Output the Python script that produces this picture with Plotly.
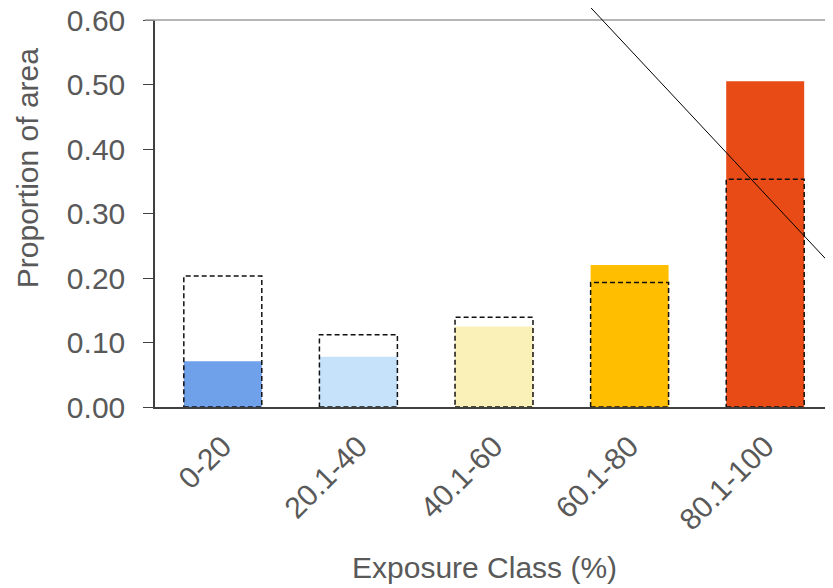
import plotly.graph_objects as go

# ---- data ----
categories = ["0-20", "20.1-40", "40.1-60", "60.1-80", "80.1-100"]
proportion_filled = [0.071, 0.078, 0.125, 0.220, 0.505]
proportion_dashed = [0.203, 0.112, 0.139, 0.193, 0.353]
bar_colors = ["#6fa0ea", "#c6e1fa", "#faf1b9", "#ffbf00", "#e84b15"]
y_ticks = [0.0, 0.1, 0.2, 0.3, 0.4, 0.5, 0.6]
y_tick_labels = [f"{v:.2f}" for v in y_ticks]

BAR_W = 0.575
FONT = "Liberation Sans, Arial, sans-serif"
TXT = "#595959"

fig = go.Figure()
fig.add_trace(go.Bar(
    x=list(range(len(categories))), y=proportion_filled, width=BAR_W,
    marker=dict(color=bar_colors, line=dict(width=0)),
    showlegend=False, hoverinfo="x+y",
))

shapes = []
# dashed outline bars, positioned from the data on the x/y axes
for i, v in enumerate(proportion_dashed):
    shapes.append(dict(type="rect", xref="x", yref="y",
                       x0=i - BAR_W / 2, x1=i + BAR_W / 2, y0=0, y1=v,
                       line=dict(color="#111111", width=1.5, dash="5px,3px"),
                       fillcolor="rgba(0,0,0,0)", layer="above"))
# top border line of plot
shapes.append(dict(type="line", xref="paper", yref="paper",
                   x0=-0.015, x1=1, y0=1, y1=1,
                   line=dict(color="#9e9e9e", width=1.5)))
# stray diagonal line overlaying the chart
shapes.append(dict(type="line", xref="paper", yref="paper",
                   x0=0.632, y0=1.052, x1=1.0, y1=0.3625,
                   line=dict(color="#000000", width=1)))

fig.update_layout(
    width=825, height=580,
    margin=dict(l=147, r=0, t=12, b=181),
    paper_bgcolor="white", plot_bgcolor="white",
    font=dict(family=FONT, size=30, color=TXT),
    shapes=shapes,
    xaxis=dict(
        tickmode="array", tickvals=list(range(len(categories))), ticktext=categories,
        range=[-0.5, 4.5], tickangle=-45, showgrid=False, zeroline=False,
        showline=True, linecolor="#404040", linewidth=1.5, ticks="",
        ticklabelstandoff=8, automargin=False,
        tickfont=dict(family=FONT, size=30, color=TXT),
    ),
    yaxis=dict(
        range=[0, 0.6], tickmode="array", tickvals=y_ticks, ticktext=y_tick_labels,
        showgrid=False, zeroline=False, showline=True, linecolor="#404040", linewidth=1.5,
        ticks="outside", ticklen=10, tickcolor="#404040", tickwidth=1.2,
        ticklabelstandoff=12, ticklabeloverflow="allow", automargin=False,
        tickfont=dict(family=FONT, size=30, color=TXT),
    ),
    annotations=[
        dict(text="Exposure Class (%)", xref="paper", yref="paper", x=0.486, y=-0.416,
             xanchor="center", yanchor="middle", showarrow=False,
             font=dict(family=FONT, size=30, color=TXT)),
        dict(text="Proportion of area", xref="paper", yref="paper", x=-0.187, y=0.6176,
             xanchor="center", yanchor="middle", textangle=-90, showarrow=False,
             font=dict(family=FONT, size=30, color=TXT)),
    ],
)

fig.write_html("out.html")
